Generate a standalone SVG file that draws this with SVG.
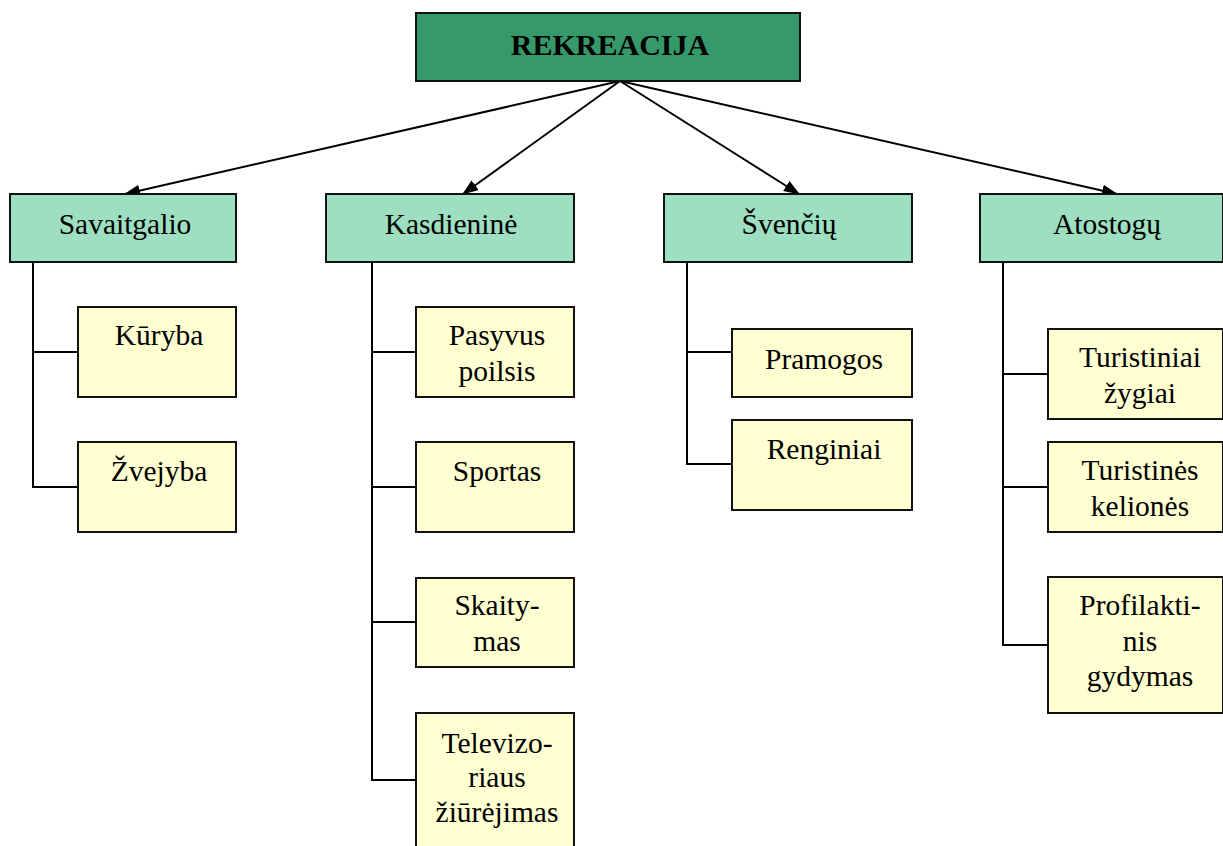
<svg xmlns="http://www.w3.org/2000/svg" width="1223" height="846" viewBox="0 0 1223 846">
<defs>
<marker id="ah" markerWidth="16" markerHeight="12" refX="15" refY="6" orient="auto" markerUnits="userSpaceOnUse">
<path d="M0,0 L16,6 L0,12 Z" fill="#000"/>
</marker>
<style>
text{font-family:'Liberation Serif','Tinos','DejaVu Serif',serif;font-size:29.5px;fill:#000;text-anchor:middle}
.root{fill:#36996a;stroke:#111;stroke-width:2}
.cat{fill:#9ddfc0;stroke:#111;stroke-width:2}
.leaf{fill:#ffffd2;stroke:#111;stroke-width:2}
.c{stroke:#000;stroke-width:2;fill:none}
</style>
</defs>
<rect width="1223" height="846" fill="#fff"/>
<g id="connectors">
<line class="c" x1="620" y1="81" x2="125" y2="194" marker-end="url(#ah)"/>
<line class="c" x1="620" y1="81" x2="463" y2="194" marker-end="url(#ah)"/>
<line class="c" x1="620" y1="81" x2="799" y2="194" marker-end="url(#ah)"/>
<line class="c" x1="620" y1="81" x2="1117" y2="194" marker-end="url(#ah)"/>
<path class="c" d="M33,262 V487 H78 M33,352 H78"/>
<path class="c" d="M372,262 V780 H416 M372,352 H416 M372,487 H416 M372,622 H416"/>
<path class="c" d="M687,262 V464 H732 M687,352 H732"/>
<path class="c" d="M1003,262 V645 H1048 M1003,374 H1048 M1003,487 H1048"/>
</g>
<g id="rekreacija"><rect class="root" x="416" y="13" width="384" height="68"/><text x="610" y="55" font-weight="bold" style="font-size:30px">REKREACIJA</text></g>
<g id="savaitgalio"><rect class="cat" x="10" y="194" width="226" height="68"/><text x="125" y="234">Savaitgalio</text></g>
<g id="kasdienine"><rect class="cat" x="326" y="194" width="248" height="68"/><text x="451" y="234">Kasdieninė</text></g>
<g id="svenciu"><rect class="cat" x="664" y="194" width="248" height="68"/><text x="789" y="234">Švenčių</text></g>
<g id="atostogu"><rect class="cat" x="980" y="194" width="243" height="68"/><text x="1107" y="234">Atostogų</text></g>
<g id="kuryba"><rect class="leaf" x="78" y="307" width="158" height="90"/><text x="159" y="345">Kūryba</text></g>
<g id="zvejyba"><rect class="leaf" x="78" y="442" width="158" height="90"/><text x="159" y="481">Žvejyba</text></g>
<g id="pasyvus"><rect class="leaf" x="416" y="307" width="158" height="90"/><text x="497" y="345">Pasyvus</text><text x="497" y="381">poilsis</text></g>
<g id="sportas"><rect class="leaf" x="416" y="442" width="158" height="90"/><text x="497" y="481">Sportas</text></g>
<g id="skaitymas"><rect class="leaf" x="416" y="578" width="158" height="89"/><text x="497" y="615">Skaity-</text><text x="497" y="651">mas</text></g>
<g id="televizoriaus"><rect class="leaf" x="416" y="713" width="158" height="140"/><text x="497" y="753">Televizo-</text><text x="497" y="787">riaus</text><text x="497" y="822">žiūrėjimas</text></g>
<g id="pramogos"><rect class="leaf" x="732" y="329" width="180" height="68"/><text x="824" y="369">Pramogos</text></g>
<g id="renginiai"><rect class="leaf" x="732" y="420" width="180" height="90"/><text x="824" y="459">Renginiai</text></g>
<g id="turistiniai"><rect class="leaf" x="1048" y="329" width="175" height="90"/><text x="1140" y="367">Turistiniai</text><text x="1140" y="403">žygiai</text></g>
<g id="turistines"><rect class="leaf" x="1048" y="442" width="175" height="90"/><text x="1140" y="480">Turistinės</text><text x="1140" y="516">kelionės</text></g>
<g id="profilaktinis"><rect class="leaf" x="1048" y="577" width="175" height="136"/><text x="1140" y="615">Profilakti-</text><text x="1140" y="651">nis</text><text x="1140" y="686">gydymas</text></g>
</svg>
